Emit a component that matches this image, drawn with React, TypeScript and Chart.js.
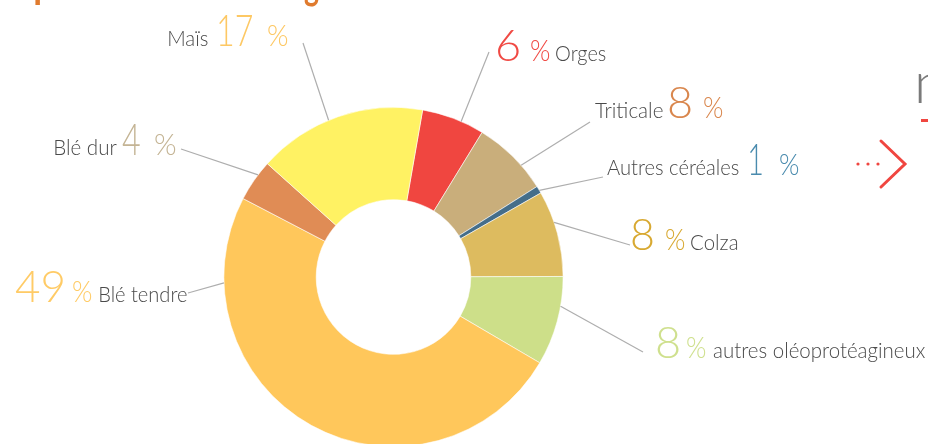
import React, { useEffect, useRef } from "react";
import { Chart, registerables } from "chart.js";

Chart.register(...registerables);

// ---- data ----
const categories = [
  "Orges",
  "Triticale",
  "Autres céréales",
  "Colza",
  "autres oléoprotéagineux",
  "Blé tendre",
  "Blé dur",
  "Maïs",
];
// share of the ring measured on the picture (%)
const shares = [6.0, 7.3, 0.7, 8.2, 8.5, 49.2, 4.0, 16.1];
// percentages printed next to each slice
const percentLabels = ["6", "8", "1", "8", "8", "49", "4", "17"];

const sliceColors = [
  "#F04640",
  "#C9AE7B",
  "#456E8A",
  "#DDBB5F",
  "#CDDF89",
  "#FFC75B",
  "#E08C55",
  "#FFF263",
];
const labelColors = [
  "#F04A44",
  "#D9874E",
  "#4A8BAE",
  "#D8A932",
  "#CFE08E",
  "#FFCB66",
  "#C4B494",
  "#FDC864",
];

// ---- label layout (pixels) ----
type Part = { k: "name" | "num" | "pct"; x: number; w: number };
const labelLayout: { parts: Part[]; base: number; anchor: [number, number]; edgeAngle: number }[] = [
  { parts: [{ k: "num", x: 497, w: 22 }, { k: "pct", x: 531, w: 19 }, { k: "name", x: 556, w: 50 }], base: 61, anchor: [489, 52], edgeAngle: 23.5 },
  { parts: [{ k: "name", x: 595, w: 68 }, { k: "num", x: 669, w: 22 }, { k: "pct", x: 704, w: 19 }], base: 118, anchor: [590, 122], edgeAngle: 48.8 },
  { parts: [{ k: "name", x: 607, w: 132 }, { k: "num", x: 750, w: 12 }, { k: "pct", x: 780, w: 19 }], base: 175, anchor: [603, 177], edgeAngle: 59.3 },
  { parts: [{ k: "num", x: 632, w: 21 }, { k: "pct", x: 666, w: 19 }, { k: "name", x: 691, w: 46 }], base: 250, anchor: [630, 245], edgeAngle: 71.2 },
  { parts: [{ k: "num", x: 657, w: 22 }, { k: "pct", x: 687, w: 19 }, { k: "name", x: 713, w: 212 }], base: 358, anchor: [643, 352], edgeAngle: 99.9 },
  { parts: [{ k: "num", x: 15, w: 48 }, { k: "pct", x: 73, w: 19 }, { k: "name", x: 100, w: 87 }], base: 302, anchor: [188, 293], edgeAngle: 268 },
  { parts: [{ k: "name", x: 55, w: 62 }, { k: "num", x: 122, w: 18 }, { k: "pct", x: 155, w: 21 }], base: 155, anchor: [181, 149], edgeAngle: 307 },
  { parts: [{ k: "name", x: 169, w: 39 }, { k: "num", x: 219, w: 33 }, { k: "pct", x: 268, w: 20 }], base: 46, anchor: [303, 43], edgeAngle: 337.5 },
];

const FONT = "Lato, 'Open Sans', sans-serif";
const fonts = {
  num: `300 43px ${FONT}`,
  pct: `300 29px ${FONT}`,
  name: `300 22px ${FONT}`,
};

function drawInk(ctx: CanvasRenderingContext2D, text: string, x: number, base: number, w: number) {
  const m = ctx.measureText(text);
  const inkW = m.actualBoundingBoxRight + m.actualBoundingBoxLeft;
  const sx = inkW > 0 ? w / inkW : 1;
  ctx.save();
  ctx.translate(x, base);
  ctx.scale(sx, 1);
  ctx.fillText(text, m.actualBoundingBoxLeft, 0);
  ctx.restore();
}

const labelPlugin = {
  id: "sliceLabels",
  afterDraw(chart: any) {
    const ctx: CanvasRenderingContext2D = chart.ctx;
    const meta = chart.getDatasetMeta(0);
    ctx.save();
    ctx.textAlign = "left";
    ctx.textBaseline = "alphabetic";
    meta.data.forEach((arc: any, i: number) => {
      const { x, y, outerRadius } = arc.getProps(["x", "y", "outerRadius"], true);
      const L = labelLayout[i];
      const a = (L.edgeAngle * Math.PI) / 180;
      const sx = x + outerRadius * Math.sin(a);
      const sy = y - outerRadius * Math.cos(a);
      ctx.beginPath();
      ctx.moveTo(sx, sy);
      ctx.lineTo(L.anchor[0], L.anchor[1]);
      ctx.strokeStyle = "#AEAEAE";
      ctx.lineWidth = 1.2;
      ctx.stroke();
      L.parts.forEach((p) => {
        let text = "";
        if (p.k === "name") {
          text = categories[i];
          ctx.fillStyle = "#4A4A4A";
        } else if (p.k === "num") {
          text = percentLabels[i];
          ctx.fillStyle = labelColors[i];
        } else {
          text = "%";
          ctx.fillStyle = labelColors[i];
        }
        ctx.font = fonts[p.k];
        drawInk(ctx, text, p.x, L.base, p.w);
      });
    });

    // cropped page fragments around the chart
    ctx.fillStyle = "#E07B2E";
    ctx.font = `700 40px ${FONT}`;
    drawInk(ctx, "p", 35, -2, 18);
    drawInk(ctx, "g", 304, -1, 15);
    ctx.fillStyle = "#7A7A7A";
    ctx.font = `300 58px ${FONT}`;
    ctx.fillText("n", 914, 103);
    ctx.fillStyle = "#F04640";
    ctx.fillRect(921, 119, 7, 3);
    // red "more" arrow
    ctx.fillStyle = "#F04640";
    [858, 868, 878].forEach((dx) => {
      ctx.beginPath();
      ctx.arc(dx, 164, 1.6, 0, Math.PI * 2);
      ctx.fill();
    });
    ctx.beginPath();
    ctx.moveTo(881, 141);
    ctx.lineTo(905, 164);
    ctx.lineTo(881, 187);
    ctx.strokeStyle = "#F04640";
    ctx.lineWidth = 3;
    ctx.lineCap = "round";
    ctx.lineJoin = "miter";
    ctx.stroke();
    ctx.restore();
  },
};

export default function App() {
  const ref = useRef<HTMLCanvasElement | null>(null);
  useEffect(() => {
    if (!ref.current) return;
    const chart = new Chart(ref.current, {
      type: "doughnut",
      data: {
        labels: categories,
        datasets: [
          {
            data: shares,
            backgroundColor: sliceColors,
            borderColor: "rgba(255,255,255,0.7)",
            borderWidth: 0.8,
          },
        ],
      },
      options: {
        responsive: false,
        devicePixelRatio: 1,
        animation: false,
        rotation: 9.9,
        cutout: "45.6%",
        layout: { padding: { left: 223.5, right: 364.5, top: 107, bottom: 13 } },
        plugins: {
          legend: { display: false },
          tooltip: { enabled: false },
        },
      },
      plugins: [labelPlugin],
    });
    return () => chart.destroy();
  }, []);
  return (
    <div
      style={{
        position: "absolute",
        left: 0,
        top: 0,
        width: 928,
        height: 444,
        overflow: "hidden",
        background: "#fff",
      }}
    >
      <canvas ref={ref} width={928} height={460} style={{ display: "block", width: 928, height: 460 }} />
    </div>
  );
}
